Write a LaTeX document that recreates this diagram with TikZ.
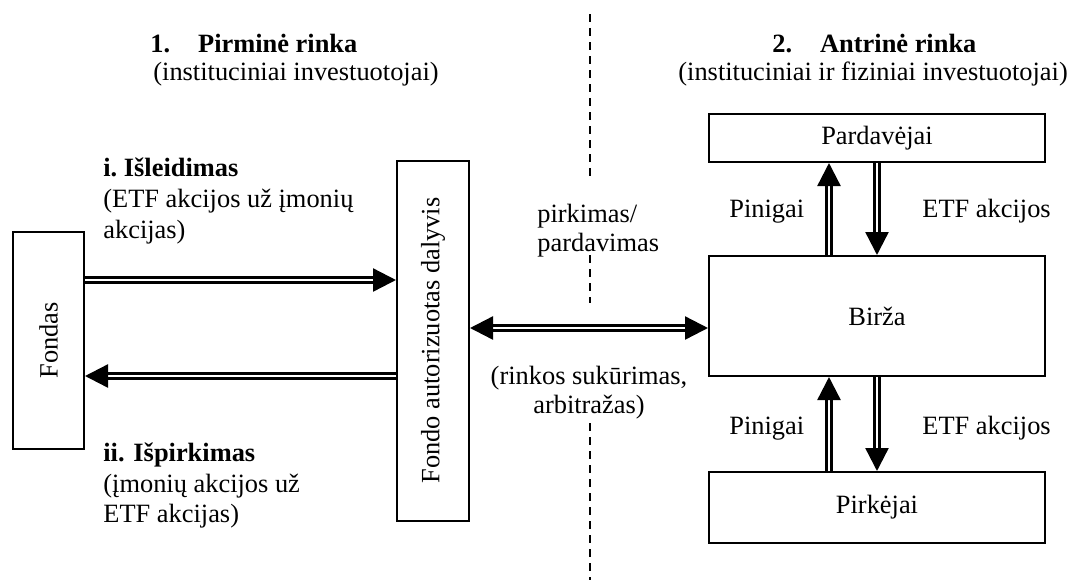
\documentclass[tikz,border=0pt]{standalone}
\usepackage{fontspec}
\setmainfont{Liberation Serif}
\usetikzlibrary{arrows.meta}

\begin{document}
\begin{tikzpicture}[x=0.5pt,y=-0.5pt,
  box/.style={draw, line width=1pt, rectangle, inner sep=0pt},
  txt/.style={inner sep=0pt, font=\fontsize{13.2}{15}\selectfont},
  lbl/.style={txt, anchor=base west},
  tip/.tip={Triangle[length=11.5pt,width=11.5pt]},
  flow/.style={double, double distance=1.2pt, line width=1.2pt, -tip},
  twoway/.style={double, double distance=1.2pt, line width=1.2pt, tip-tip},
  divider/.style={line width=1pt, dash pattern=on 4pt off 3pt}
]
\useasboundingbox (0,0) rectangle (1073,580);

% primary market: fund and authorised participant
\node[box, minimum width=35.5pt, minimum height=108.5pt] (fondas) at (48.5,340.5) {};
\node[txt, rotate=90] (fondasT) at (fondas.center) {Fondas};
\node[box, minimum width=36pt, minimum height=180pt] (dalyvis) at (433,340.5) {};
\node[txt, rotate=90] (dalyvisT) at (dalyvis.center) {Fondo autorizuotas dalyvis};

% secondary market
\node[box, minimum width=168pt, minimum height=24pt] (pard) at (877,138) {};
\node[txt] (pardT) at (pard.center) {Pardavėjai};
\node[box, minimum width=168pt, minimum height=60pt] (birza) at (877,316) {};
\node[txt] (birzaT) at (birza.center) {Birža};
\node[box, minimum width=168pt, minimum height=35.5pt] (pirk) at (877,507.5) {};
\node[txt] (pirkT) at (pirk.center) {Pirkėjai};

% helper levels for the arrows
\coordinate (yIss) at (0,280);
\coordinate (yRed) at (0,376);
\coordinate (yMid) at (0,328);
\coordinate (xUp) at (829,0);
\coordinate (xDn) at (877,0);

\draw[flow] (fondas.east |- yIss) -- (dalyvis.west |- yIss);
\draw[flow] (dalyvis.west |- yRed) -- (fondas.east |- yRed);
\draw[twoway] (dalyvis.east |- yMid) -- (birza.west |- yMid);

\draw[flow] (birza.north -| xUp) -- (pard.south -| xUp);
\draw[flow] (pard.south -| xDn) -- (birza.north -| xDn);
\draw[flow] (pirk.north -| xUp) -- (birza.south -| xUp);
\draw[flow] (birza.south -| xDn) -- (pirk.north -| xDn);

% dividing line between the two markets
\draw[divider] (590,14) -- (590,178);
\draw[divider] (590,255) -- (590,303);
\draw[divider] (590,423) -- (590,580);

% headings
\node[lbl] (h1) at (150,52) {\textbf{1.}\hspace{14pt}\textbf{Pirminė rinka}};
\node[lbl] (h1s) at (153,80) {(instituciniai investuotojai)};
\node[lbl] (h2) at (772,52) {\textbf{2.}\hspace{14pt}\textbf{Antrinė rinka}};
\node[lbl] (h2s) at (678,80) {(instituciniai ir fiziniai investuotojai)};

% issuance and redemption
\node[lbl] (iss1) at (103,176) {\textbf{i.\ Išleidimas}};
\node[lbl] (iss2) at (103,207) {(ETF akcijos už įmonių};
\node[lbl] (iss3) at (103,238) {akcijas)};
\node[lbl] (red1) at (103,461) {\textbf{ii. Išpirkimas}};
\node[lbl] (red2) at (103,492) {(įmonių akcijos už};
\node[lbl] (red3) at (103,522) {ETF akcijas)};

% trading between participant and exchange
\node[lbl] (pp1) at (537,222) {pirkimas/};
\node[lbl] (pp2) at (537,251) {pardavimas};
\node[txt, anchor=base] (rk1) at (589,384) {(rinkos sukūrimas,};
\node[txt, anchor=base] (rk2) at (589,413) {arbitražas)};

% flows on the exchange
\node[lbl] (pin1) at (729,217) {Pinigai};
\node[lbl] (etf1) at (922,217) {ETF akcijos};
\node[lbl] (pin2) at (729,434) {Pinigai};
\node[lbl] (etf2) at (922,434) {ETF akcijos};
\end{tikzpicture}
\end{document}
